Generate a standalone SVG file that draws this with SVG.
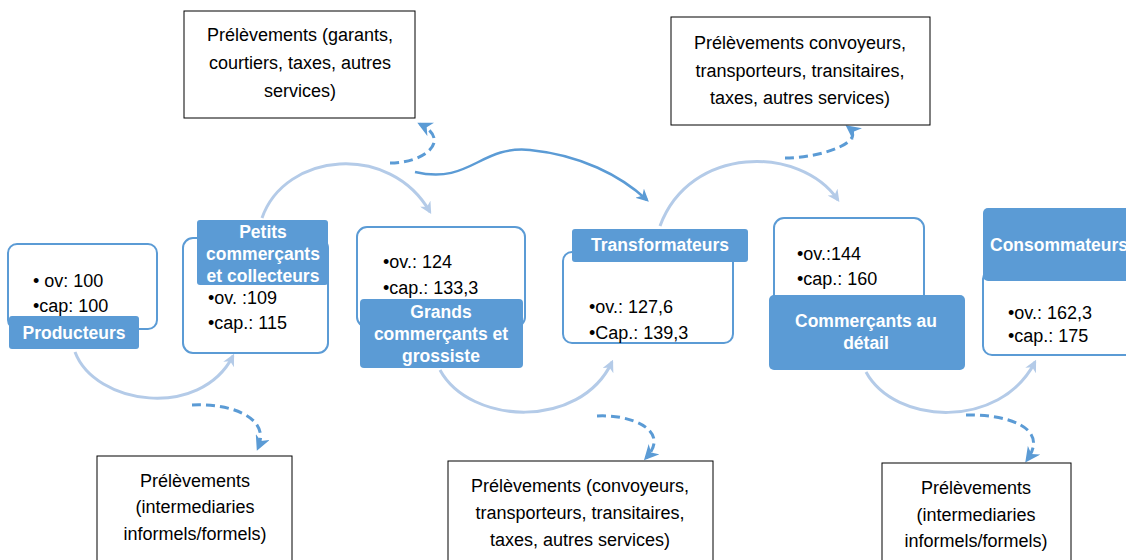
<svg xmlns="http://www.w3.org/2000/svg" width="1126" height="560" viewBox="0 0 1126 560">
<style>
.box{fill:#fff;stroke:#5b9bd5;stroke-width:2}
.lab{fill:#5b9bd5}
.lt{font-family:"Liberation Sans",Arial,sans-serif;font-size:17.5px;font-weight:bold;fill:#fff;text-anchor:middle}
.bt{font-family:"Liberation Sans",Arial,sans-serif;font-size:18px;fill:#000}
.note{fill:#fff;stroke:#000;stroke-width:1}
.nt{font-family:"Liberation Sans",Arial,sans-serif;font-size:18px;fill:#000;text-anchor:middle}
.arc{fill:none;stroke:#b4cbe8;stroke-width:3;marker-end:url(#ha)}
.dash{fill:none;stroke:#5b9bd5;stroke-width:3;stroke-dasharray:9 5;marker-end:url(#hd)}
.solid{fill:none;stroke:#5b9bd5;stroke-width:2.5;marker-end:url(#hd)}
</style>
<defs>
<marker id="ha" viewBox="0 0 10 10" refX="8" refY="5" markerWidth="4" markerHeight="4" orient="auto" markerUnits="strokeWidth">
<path d="M0,0 L10,5 L0,10 L3,5 Z" fill="#b4cbe8"/>
</marker>
<marker id="hd" viewBox="0 0 10 10" refX="8" refY="5" markerWidth="5" markerHeight="5" orient="auto" markerUnits="strokeWidth">
<path d="M0,0 L10,5 L0,10 L3,5 Z" fill="#5b9bd5"/>
</marker>
</defs>
<rect width="1126" height="560" fill="#fff"/>
<g id="connectors">
<path class="arc" d="M75,352 C95,405 200,420 233,356"/>
<path class="arc" d="M262,218 C285,152 390,142 430,212"/>
<path class="arc" d="M440,370 C470,425 580,430 612,362"/>
<path class="arc" d="M660,226 C690,145 800,145 838,200"/>
<path class="arc" d="M866,372 C895,425 1000,430 1035,362"/>
<path class="dash" d="M390,163 C425,163 452,140 420,124"/>
<path class="dash" d="M785,158 C820,158 868,142 848,127"/>
<path class="dash" d="M192,405 C225,403 272,415 258,448"/>
<path class="dash" d="M597,416 C630,414 672,430 646,458"/>
<path class="dash" d="M966,415 C1000,414 1052,425 1027,460"/>
<path class="solid" d="M415,172 C470,185 480,145 530,150 C580,155 620,175 647,200"/>
</g>
<g id="producteurs">
<rect class="box" x="8" y="244" width="149" height="85" rx="9"/>
<text class="bt" x="33" y="287">• ov: 100</text>
<text class="bt" x="33" y="312">•cap: 100</text>
<rect class="lab" x="9" y="316" width="130" height="33" rx="3"/>
<text class="lt" x="74" y="339">Producteurs</text>
</g>
<g id="petits">
<rect class="box" x="183" y="238" width="145" height="115" rx="10"/>
<rect class="lab" x="197" y="220" width="131" height="65" rx="3"/>
<text class="lt" x="263" y="238">Petits</text>
<text class="lt" x="263" y="260">commerçants</text>
<text class="lt" x="263" y="282">et collecteurs</text>
<text class="bt" x="208" y="304">•ov. :109</text>
<text class="bt" x="208" y="329">•cap.: 115</text>
</g>
<g id="grands">
<rect class="box" x="357" y="227" width="168" height="100" rx="10"/>
<text class="bt" x="383" y="268">•ov.: 124</text>
<text class="bt" x="383" y="294">•cap.: 133,3</text>
<rect class="lab" x="360" y="299" width="163" height="69" rx="4"/>
<text class="lt" x="441" y="318">Grands</text>
<text class="lt" x="441" y="340">commerçants et</text>
<text class="lt" x="441" y="362">grossiste</text>
</g>
<g id="transformateurs">
<rect class="box" x="563" y="252" width="170" height="91" rx="9"/>
<rect class="lab" x="572" y="229" width="176" height="33" rx="3"/>
<text class="lt" x="660" y="251">Transformateurs</text>
<text class="bt" x="589" y="313">•ov.: 127,6</text>
<text class="bt" x="589" y="339">•Cap.: 139,3</text>
</g>
<g id="detail">
<rect class="box" x="774" y="218" width="150" height="100" rx="10"/>
<text class="bt" x="797" y="260">•ov.:144</text>
<text class="bt" x="797" y="285">•cap.: 160</text>
<rect class="lab" x="769" y="295" width="196" height="75" rx="5"/>
<text class="lt" x="866" y="327">Commerçants au</text>
<text class="lt" x="866" y="349">détail</text>
</g>
<g id="consommateurs">
<rect class="box" x="983" y="270" width="160" height="85" rx="9"/>
<rect class="lab" x="983" y="208" width="160" height="73" rx="5"/>
<text class="lt" x="990" y="251" style="text-anchor:start">Consommateurs</text>
<text class="bt" x="1008" y="319">•ov.: 162,3</text>
<text class="bt" x="1008" y="342">•cap.: 175</text>
</g>
<g id="note-garants">
<rect class="note" x="184" y="11" width="231" height="107"/>
<text class="nt" x="300" y="41">Prélèvements (garants,</text>
<text class="nt" x="300" y="69">courtiers, taxes, autres</text>
<text class="nt" x="300" y="97">services)</text>
</g>
<g id="note-convoyeurs-top">
<rect class="note" x="671" y="17" width="259" height="108"/>
<text class="nt" x="800" y="49">Prélèvements convoyeurs,</text>
<text class="nt" x="800" y="77">transporteurs, transitaires,</text>
<text class="nt" x="800" y="104">taxes, autres services)</text>
</g>
<g id="note-intermediaires-1">
<rect class="note" x="97" y="456" width="195" height="110"/>
<text class="nt" x="195" y="487">Prélèvements</text>
<text class="nt" x="195" y="513">(intermediaries</text>
<text class="nt" x="195" y="540">informels/formels)</text>
</g>
<g id="note-convoyeurs-bottom">
<rect class="note" x="448" y="461" width="265" height="110"/>
<text class="nt" x="580" y="492">Prélèvements (convoyeurs,</text>
<text class="nt" x="580" y="519">transporteurs, transitaires,</text>
<text class="nt" x="580" y="546">taxes, autres services)</text>
</g>
<g id="note-intermediaires-2">
<rect class="note" x="882" y="463" width="189" height="110"/>
<text class="nt" x="976" y="494">Prélèvements</text>
<text class="nt" x="976" y="521">(intermediaries</text>
<text class="nt" x="976" y="547">informels/formels)</text>
</g>
</svg>
